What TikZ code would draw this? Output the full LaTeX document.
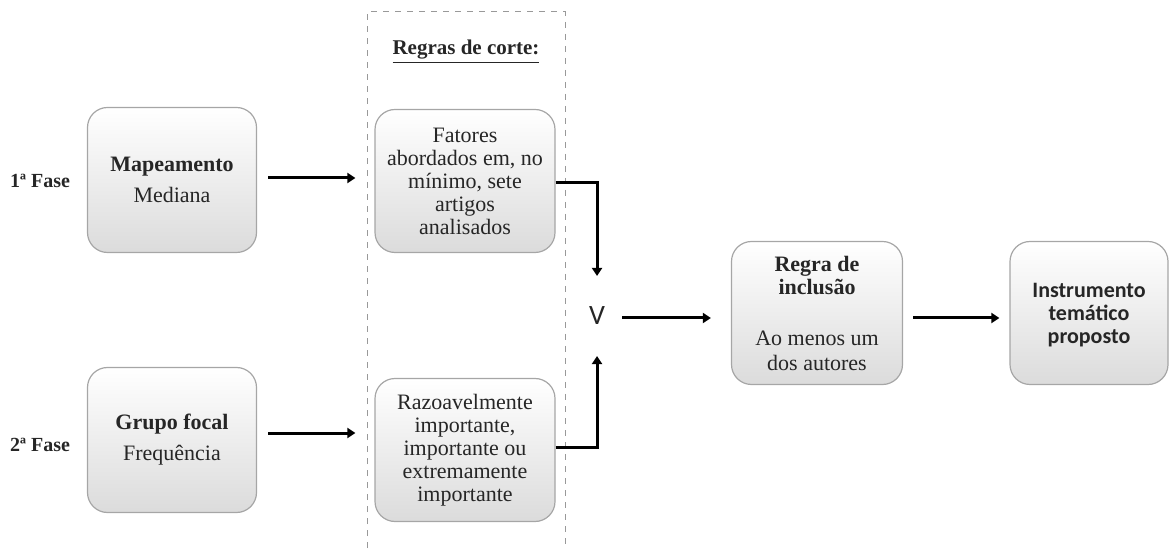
\documentclass[tikz,border=0pt]{standalone}
\usepackage{fontspec}
\setmainfont{Liberation Serif}
\newfontfamily\calibri{Carlito}
\usetikzlibrary{positioning}
\usetikzlibrary{arrows.meta}
\tikzset{
	every node/.style = {font=\rmfamily\fontsize{10.5}{11.5}\selectfont, text=black!85},
	stagebox/.style = {draw=gray!70, line width=0.6pt, rounded corners=10pt,
		top color=white, bottom color=gray!28, align=center,
		font=\rmfamily\fontsize{11}{11.5}\selectfont,
		minimum height=71.5pt, inner sep=2pt},
	flow/.style = {line width=1.5pt, -{Triangle[length=4pt,width=5pt]}}
}

\begin{document}
\begin{tikzpicture}[x=0.5pt, y=-0.5pt]
		\useasboundingbox (0,0) rectangle (1170,549);
		% cut-off rules frame
		\draw[dashed, gray!80, line width=0.5pt] (367,560) -- (367,12) -- (565,12) -- (565,560);
		\node (heading) at (466,52) {\textbf{\underline{Regras de corte:}}};
		% phases
		\node (fase1) at (40,181) {\fontsize{10}{11}\selectfont\textbf{1ª Fase}};
		\node (fase2) at (40,445) {\fontsize{10}{11}\selectfont\textbf{2ª Fase}};
		% depth 1
		\node[stagebox, minimum width=84.5pt, minimum height=72.5pt] (mapa) at (172,180)
			{\textbf{Mapeamento}\\[4pt]Mediana};
		\node[stagebox, minimum width=84.5pt, minimum height=72.5pt] (grupo) at (172,440)
			{\textbf{Grupo focal}\\[4pt]Frequência};
		% depth 2
		\node[stagebox, minimum width=90pt] (fatores) at (465,181)
			{Fatores\\abordados em, no\\mínimo, sete\\artigos\\analisados};
		\node[stagebox, minimum width=90pt] (razoavel) at (465,450)
			{Razoavelmente\\importante,\\importante ou\\extremamente\\importante};
		% join
		\node (vee) at (597,316) {\calibri\fontsize{14}{16}\selectfont V};
		\node[stagebox, minimum width=85.5pt] (regra) at (817,313)
			{\textbf{Regra de}\\\textbf{inclusão}\\[14pt]Ao menos um\\[1pt]dos autores};
		\node[stagebox, minimum width=79pt, font=\calibri\bfseries\fontsize{11}{11.5}\selectfont] (instr) at (1089,313)
			{\mbox{}\\[-2pt]Instrumento\\temático\\proposto};

		\draw[flow, shorten <=5.5pt, shorten >=9.5pt] (mapa.east |- 0,178) -- (fatores.west |- 0,178);
		\draw[flow, shorten <=5.5pt, shorten >=9.5pt] (grupo.east |- 0,433) -- (razoavel.west |- 0,433);
		\draw[flow, shorten >=12pt] (fatores.east |- 0,183) -| (vee.north);
		\draw[flow, shorten >=12pt] (razoavel.east |- 0,447) -| (vee.south);
		\draw[flow, shorten <=5pt, shorten >=10pt] (vee.east |- 0,318) -- (regra.west |- 0,318);
		\draw[flow, shorten <=5pt, shorten >=5pt] (regra.east |- 0,318) -- (instr.west |- 0,318);
	\end{tikzpicture}
\end{document}
